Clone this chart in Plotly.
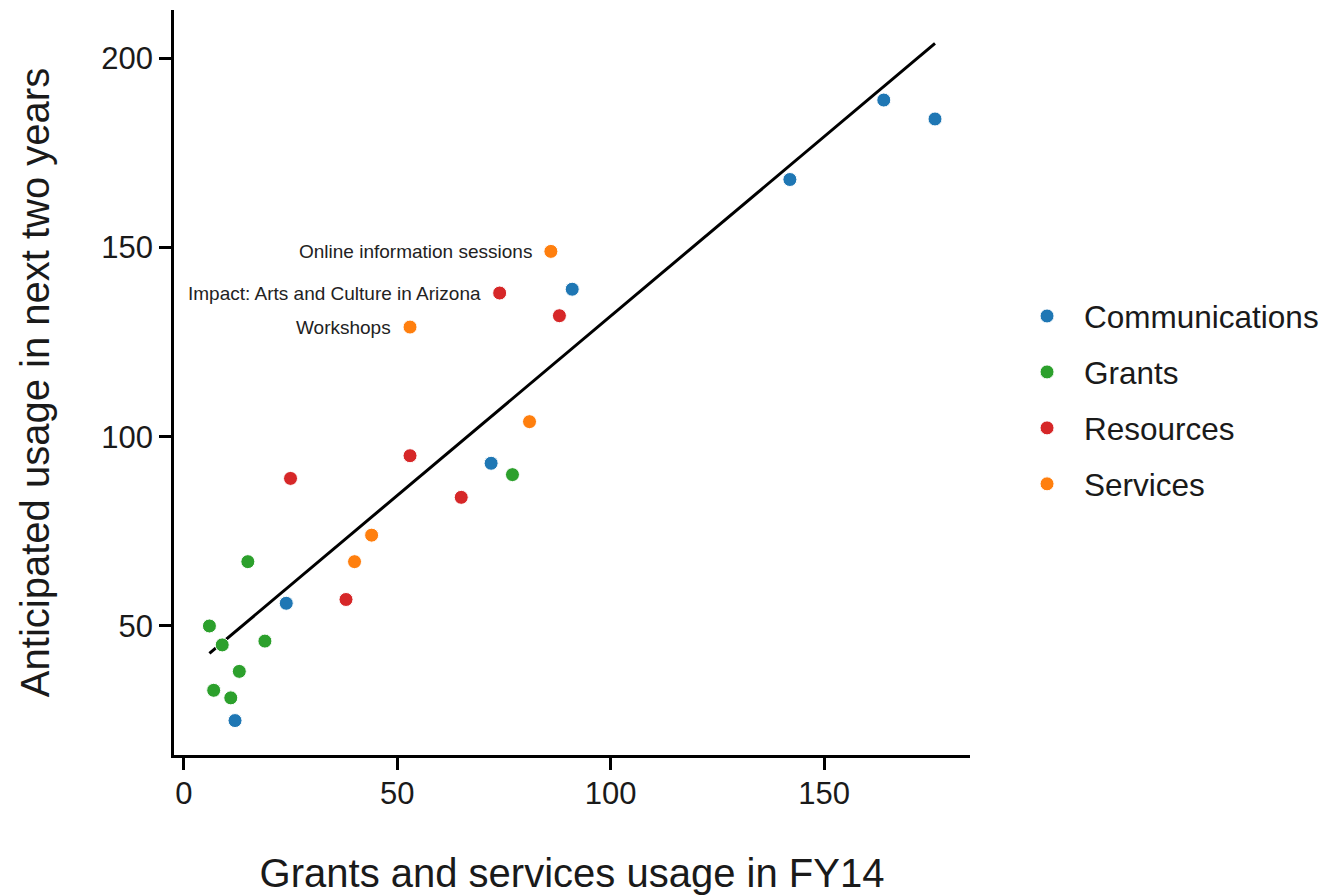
import numpy as np
import plotly.graph_objects as go

# ---- data ----
categories = ["Communications", "Grants", "Resources", "Services"]
colors = ["#1f77b4", "#2ca02c", "#d62728", "#ff7f0e"]

comm_x = [176, 164, 142, 91, 72, 24, 12]
comm_y = [184, 189, 168, 139, 93, 56, 25]
grants_x = [6, 9, 7, 11, 13, 15, 19, 77]
grants_y = [50, 45, 33, 31, 38, 67, 46, 90]
res_x = [25, 53, 65, 38, 74, 88]
res_y = [89, 95, 84, 57, 138, 132]
serv_x = [86, 53, 81, 44, 40]
serv_y = [149, 129, 104, 74, 67]

label_texts = ["Online information sessions", "Impact: Arts and Culture in Arizona", "Workshops"]
label_x = [86, 74, 53]
label_y = [149, 138, 129]

x_ticks = [0, 50, 100, 150]
y_ticks = [50, 100, 150, 200]

series_x = [comm_x, grants_x, res_x, serv_x]
series_y = [comm_y, grants_y, res_y, serv_y]

FONT = "Arial, Liberation Sans, sans-serif"

fig = go.Figure()

# regression line over all points
all_x = np.array(sum(series_x, []), dtype=float)
all_y = np.array(sum(series_y, []), dtype=float)
slope, intercept = np.polyfit(all_x, all_y, 1)
lx = np.array([all_x.min(), all_x.max()])
fig.add_trace(go.Scatter(x=lx, y=slope * lx + intercept, mode="lines",
                         line=dict(color="black", width=3),
                         showlegend=False, hoverinfo="skip"))

for name, c, xs, ys in zip(categories, colors, series_x, series_y):
    fig.add_trace(go.Scatter(x=xs, y=ys, mode="markers", name=name,
                             legendgroup=name,
                             marker=dict(color=c, size=14,
                                         line=dict(color="white", width=1))))

for t, x, y in zip(label_texts, label_x, label_y):
    fig.add_annotation(x=x, y=y, text=t, showarrow=False, xanchor="right",
                       yanchor="middle", xshift=-17,
                       font=dict(family=FONT, size=19, color="#222222"))

axis_common = dict(showgrid=False, zeroline=False, showline=True,
                   linecolor="black", linewidth=2.5, ticks="outside",
                   ticklen=12, tickwidth=2.5, tickcolor="black",
                   tickfont=dict(family=FONT, size=31, color="#1a1a1a"),
                   mirror=False, automargin=False)

fig.update_layout(
    width=1320, height=888, autosize=False,
    margin=dict(l=166, r=358, t=2, b=141, autoexpand=False),
    plot_bgcolor="white", paper_bgcolor="white",
    xaxis=dict(range=[-2.3, 184.2], tickvals=x_ticks, ticklabelstandoff=-3,
               title=dict(text="Grants and services usage in FY14",
                          font=dict(family=FONT, size=40, color="#1a1a1a"),
                          standoff=50),
               **axis_common),
    yaxis=dict(range=[15.9, 212.8], tickvals=y_ticks,
               title=dict(text="Anticipated usage in next two years",
                          font=dict(family=FONT, size=40, color="#1a1a1a"),
                          standoff=40),
               **axis_common),
    legend=dict(x=1.0503, xanchor="left", y=0.4765, yanchor="middle",
                font=dict(family=FONT, size=31.5, color="#1a1a1a"),
                tracegroupgap=12, itemwidth=64, bgcolor="rgba(0,0,0,0)"),
    showlegend=True,
)

fig.write_html("out.html")
